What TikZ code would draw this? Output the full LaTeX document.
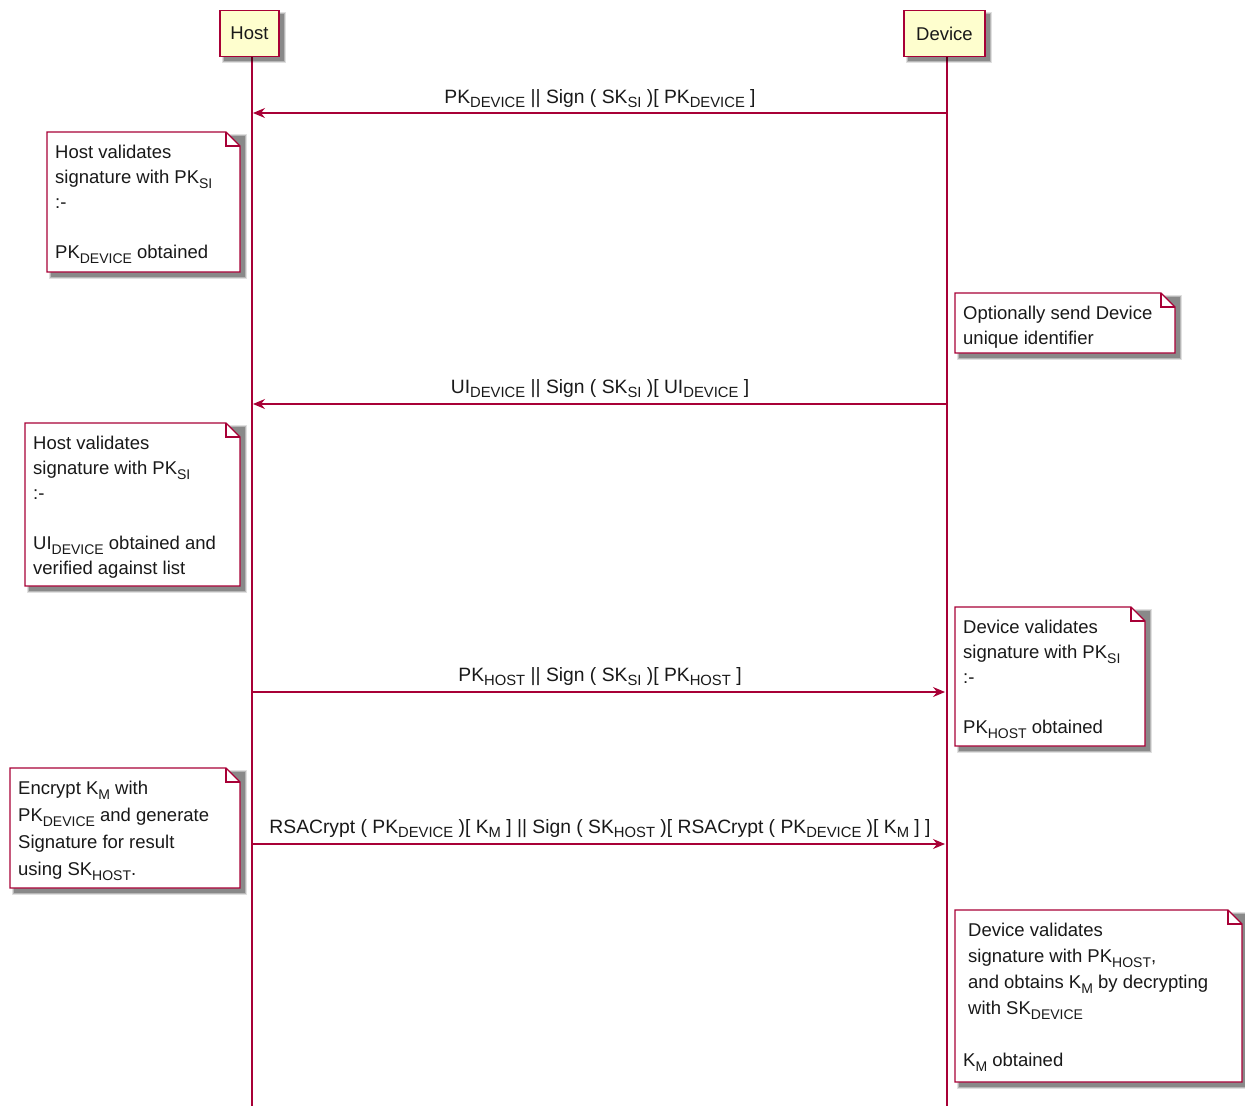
\documentclass[tikz,border=0pt]{standalone}
\usepackage{fontspec}
\setmainfont{Liberation Sans}
\usetikzlibrary{arrows.meta}
\definecolor{pumlred}{HTML}{A80036}
\definecolor{pumlfill}{HTML}{FEFECE}
\newcommand{\sbs}[1]{\raisebox{-4.5pt}{\fontsize{14}{14}\selectfont #1}}
\newcommand{\lsbs}[1]{\raisebox{-4.5pt}{\fontsize{14.8}{14.8}\selectfont #1}}
\newcommand{\softshadow}[4]{%
  \fill[black,opacity=0.12] (#1+2,#2+2) rectangle (#3+6.5,#4+6.5);
  \fill[black,opacity=0.18] (#1+3,#2+3) rectangle (#3+5.5,#4+5.5);
  \fill[black,opacity=0.25] (#1+4,#2+4) rectangle (#3+4.5,#4+4.5);
}
\newcommand{\pumlnote}[4]{%
  \softshadow{#1}{#2}{#3}{#4}
  \draw[notebox] (#1,#2) -- (#3-14,#2) -- (#3,#2+14) -- (#3,#4) -- (#1,#4) -- cycle;
  \draw[notebox,fill=none] (#3-14,#2) -- (#3-14,#2+14) -- (#3,#2+14);
}
\tikzset{
  notebox/.style={draw=pumlred, fill=white, line width=1.1pt, line join=miter},
  notetext/.style={anchor=north west, inner sep=0pt, align=left, font=\fontsize{18.5}{25}\selectfont, text=black!90},
  partbox/.style={draw=pumlred, fill=pumlfill, line width=1.5pt, inner sep=0pt, font=\fontsize{18.5}{22}\selectfont, text=black!90},
  lifeline/.style={draw=pumlred, line width=1.2pt},
  msg/.style={draw=pumlred, line width=1.1pt, -{Stealth[length=12pt, width=10pt, inset=4pt]}},
  msglabel/.style={anchor=base, inner sep=0pt, font=\fontsize{19.3}{22}\selectfont, text=black!90}
}
\begin{document}
\begin{tikzpicture}[x=1pt,y=-1pt]
\useasboundingbox (0,0) rectangle (1245,1106);
\fill[white] (0,0) rectangle (1245,1106);

% lifelines
\coordinate (ht) at (252,57);
\coordinate (hb) at (252,1106);
\coordinate (dt) at (947,57);
\coordinate (db) at (947,1106);
\draw[lifeline] (ht) -- (hb);
\draw[lifeline] (dt) -- (db);

% participants
\softshadow{220}{10}{279}{56}
\node[partbox, minimum width=59pt, minimum height=46pt] (host) at (249.5,33.5) {Host};
\softshadow{904}{10}{985}{56}
\node[partbox, minimum width=81pt, minimum height=46pt] (device) at (944.5,33.5) {Device};

% message 1
\coordinate (m1d) at (947,113);
\coordinate (m1h) at (253,113);
\draw[msg] (m1d) -- (m1h);
\node[msglabel] (l1) at (600,103) {PK\lsbs{DEVICE} || Sign ( SK\lsbs{SI} )[ PK\lsbs{DEVICE} ]};

% note 1
\pumlnote{47}{132}{240}{272}
\node[notetext] (n1) at (55,145) {Host validates\\signature with PK\sbs{SI}\\:-\\\mbox{}\\PK\sbs{DEVICE} obtained};

% note 2
\pumlnote{955}{293}{1175}{353}
\node[notetext] (n2) at (963,306) {Optionally send Device\\unique identifier};

% message 2
\coordinate (m2d) at (947,404);
\coordinate (m2h) at (253,404);
\draw[msg] (m2d) -- (m2h);
\node[msglabel] (l2) at (600,393) {UI\lsbs{DEVICE} || Sign ( SK\lsbs{SI} )[ UI\lsbs{DEVICE} ]};

% note 3
\pumlnote{25}{423}{240}{586}
\node[notetext] (n3) at (33,436) {Host validates\\signature with PK\sbs{SI}\\:-\\\mbox{}\\UI\sbs{DEVICE} obtained and\\verified against list};

% note 4
\pumlnote{955}{607}{1145}{746}
\node[notetext] (n4) at (963,620) {Device validates\\signature with PK\sbs{SI}\\:-\\\mbox{}\\PK\sbs{HOST} obtained};

% message 3
\coordinate (m3h) at (252,692);
\coordinate (m3d) at (945,692);
\draw[msg] (m3h) -- (m3d);
\node[msglabel] (l3) at (600,681) {PK\lsbs{HOST} || Sign ( SK\lsbs{SI} )[ PK\lsbs{HOST} ]};

% note 5
\pumlnote{10}{768}{240}{888}
\node[notetext, font=\fontsize{18.5}{27}\selectfont] (n5) at (18,781) {Encrypt K\sbs{M} with\\PK\sbs{DEVICE} and generate\\Signature for result\\using SK\sbs{HOST}.};

% message 4
\coordinate (m4h) at (252,844);
\coordinate (m4d) at (945,844);
\draw[msg] (m4h) -- (m4d);
\node[msglabel] (l4) at (600,833) {RSACrypt ( PK\lsbs{DEVICE} )[ K\lsbs{M} ] || Sign ( SK\lsbs{HOST} )[ RSACrypt ( PK\lsbs{DEVICE} )[ K\lsbs{M} ] ]};

% note 6
\pumlnote{955}{910}{1242}{1082}
\node[notetext, font=\fontsize{18.5}{26}\selectfont] (n6) at (963,923) {\hspace{5pt}Device validates\\\hspace{5pt}signature with PK\sbs{HOST},\\\hspace{5pt}and obtains K\sbs{M} by decrypting\\\hspace{5pt}with SK\sbs{DEVICE}\\\mbox{}\\K\sbs{M} obtained};
\end{tikzpicture}
\end{document}
